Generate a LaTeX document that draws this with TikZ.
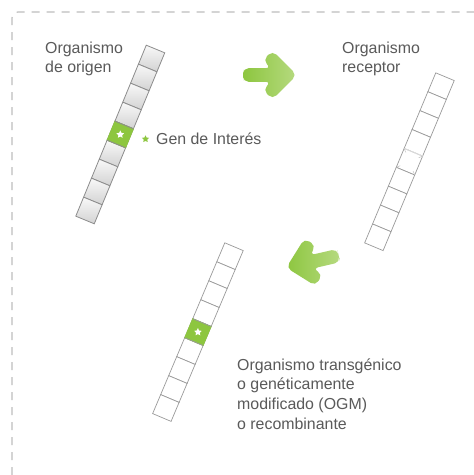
\documentclass[tikz,border=0pt]{standalone}
\usepackage{fontspec}
\setmainfont{Liberation Sans}
\usetikzlibrary{shapes.geometric}
\definecolor{gtxt}{HTML}{5A5A5A}
\definecolor{ggreen}{HTML}{8DC63F}
\definecolor{glight}{HTML}{B6DA80}
\definecolor{cellline}{HTML}{8C8C8C}
\definecolor{thinline}{HTML}{9A9A9A}
\definecolor{dashc}{HTML}{BDBDBD}
\begin{document}
\begin{tikzpicture}[x=1pt,y=-1pt,
  lbl/.style={font=\fontsize{15.9}{19.7}\selectfont, text=gtxt, align=left, inner sep=0pt, anchor=base west},
  grcell/.style={draw=cellline, line width=0.8pt, top color=gray!5, bottom color=gray!35},
  wcell/.style={draw=thinline, line width=0.7pt, fill=white},
  gcell/.style={draw=ggreen, line width=0.8pt, fill=ggreen},
  wstar/.style={star, star points=5, star point ratio=2, fill=white, minimum size=8pt, inner sep=0pt},
  lstar/.style={star, star points=5, star point ratio=2, fill=ggreen, minimum size=7.5pt, inner sep=0pt},
  fatarrow/.style={left color=ggreen, right color=glight, rounded corners=5.5pt},
  border/.style={draw=dashc, line width=1.2pt, dash pattern=on 8pt off 7pt, rounded corners=6pt}
]
\useasboundingbox (0,0) rectangle (474,475);
\fill[white] (0,0) rectangle (474,475);

% dashed frame
\draw[border] (12,520) -- (12,12) -- (520,12);

% source chromosome
\begin{scope}[shift={(155.5,49)}, rotate=-22.4]
  \foreach \i in {0,...,8} {
    \path[grcell] (-10,\i*20.55) rectangle (10,\i*20.55+20.55);
  }
  \path[gcell] (-10,4*20.55) rectangle (10,5*20.55);
  \draw[cellline, line width=0.8pt] (-10,4*20.55) -- (10,4*20.55) (-10,5*20.55) -- (10,5*20.55);
  \node[wstar] (s1) at (0,4.5*20.55) {};
\end{scope}

% receptor chromosome
\begin{scope}[shift={(445,76.7)}, rotate=-22.7]
  \foreach \i in {0,...,8} {
    \path[wcell] (-10,\i*20.48) rectangle (10,\i*20.48+20.48);
  }
  \draw[white, line width=1pt] (-10,4*20.48) -- (10,4*20.48);
  \draw[thinline!50, line width=0.6pt] (-10,4*20.48) -- (10,4*20.48);
  \draw[thinline!60, line width=0.5pt]
    (-10,4*20.48) -- (-7,4*20.48+3) (10,4*20.48) -- (7,4*20.48+3)
    (-10,5*20.48) -- (-7,5*20.48-3) (10,5*20.48) -- (7,5*20.48-3);
\end{scope}

% modified chromosome
\begin{scope}[shift={(234,246.7)}, rotate=-22.9]
  \foreach \i in {0,...,8} {
    \path[wcell] (-10,\i*20.6) rectangle (10,\i*20.6+20.6);
  }
  \path[gcell] (-10,4*20.6) rectangle (10,5*20.6);
  \draw[thinline, line width=0.7pt] (-10,4*20.6) -- (10,4*20.6) (-10,5*20.6) -- (10,5*20.6);
  \node[wstar] (s2) at (0,4.5*20.6) {};
\end{scope}

% arrows
\begin{scope}[shift={(294,75)}]
  \path[fatarrow] (-51,0) -- (-51,6.8) -- (-23,6.8) -- (-31,14.8) -- (-21.5,24.3) -- (2.8,0) -- (-21.5,-24.3) -- (-31,-14.8) -- (-23,-6.8) -- (-51,-6.8) -- cycle;
\end{scope}
\begin{scope}[shift={(289,267)}, rotate=193]
  \path[fatarrow] (-51,0) -- (-51,6.8) -- (-23,6.8) -- (-31,14.8) -- (-21.5,24.3) -- (2.8,0) -- (-21.5,-24.3) -- (-31,-14.8) -- (-23,-6.8) -- (-51,-6.8) -- cycle;
\end{scope}

% labels (base anchor = last line)
\node[lbl] (origen) at (45,72.7) {Organismo\\de origen};
\node[lbl] (receptor) at (342,72.7) {Organismo\\receptor};
\node[lstar] (s0) at (145.5,139) {};
\node[lbl] (gen) at (156,144) {Gen de Interés};
\node[lbl] (ogm) at (237,429.1) {Organismo transgénico\\o genéticamente\\modificado (OGM)\\o recombinante};
\end{tikzpicture}
\end{document}
